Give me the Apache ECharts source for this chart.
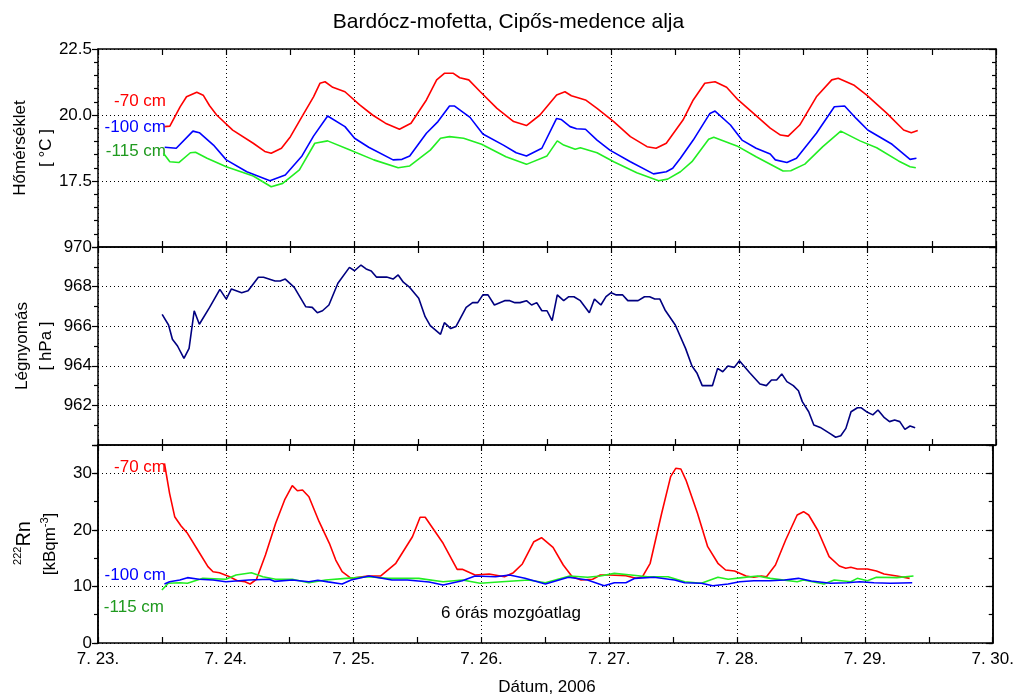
<!DOCTYPE html>
<html>
<head>
<meta charset="utf-8">
<title>Bardócz-mofetta</title>
<style>
  * { margin: 0; padding: 0 }
  html, body { width: 100%; height: 100%; background: #fff; }
  #chart { width: 1017px; height: 695px; }
</style>
</head>
<body>
<div id="chart"></div>
<script src="https://cdn.jsdelivr.net/npm/echarts@6/dist/echarts.min.js"></script>
<script>
// idő: nap (7. hó) törtrészekkel; értékek
const dayTicks = [23, 24, 25, 26, 27, 28, 29, 30];

// hőmérséklet [°C]
const temp70 = [[23.52,19.56],[23.56,19.58],[23.64,20.31],[23.69,20.69],[23.77,20.86],[23.82,20.75],[23.87,20.35],[23.925,20.0],[24.05,19.43],[24.21,18.93],[24.30,18.62],[24.35,18.55],[24.43,18.74],[24.50,19.18],[24.59,19.94],[24.68,20.69],[24.73,21.2],[24.77,21.26],[24.83,21.05],[24.925,20.88],[25.04,20.38],[25.14,20.0],[25.24,19.69],[25.35,19.46],[25.44,19.69],[25.56,20.57],[25.64,21.33],[25.70,21.58],[25.77,21.58],[25.82,21.41],[25.89,21.33],[25.98,20.88],[26.11,20.25],[26.24,19.75],[26.34,19.60],[26.445,20.0],[26.575,20.76],[26.64,20.88],[26.69,20.73],[26.80,20.57],[26.89,20.25],[27.02,19.75],[27.15,19.18],[27.28,18.80],[27.35,18.74],[27.43,18.93],[27.56,19.81],[27.64,20.57],[27.73,21.2],[27.81,21.26],[27.90,21.05],[27.99,20.57],[28.11,20.06],[28.24,19.5],[28.32,19.24],[28.38,19.2],[28.47,19.62],[28.60,20.69],[28.72,21.33],[28.77,21.39],[28.89,21.14],[28.99,20.76],[29.15,20.06],[29.28,19.43],[29.34,19.33],[29.39,19.41]];
const temp100 = [[23.52,18.78],[23.61,18.74],[23.74,19.39],[23.79,19.33],[23.90,18.86],[24.00,18.3],[24.16,17.85],[24.34,17.51],[24.46,17.73],[24.59,18.45],[24.68,19.2],[24.79,19.96],[24.925,19.56],[25.00,19.12],[25.11,18.78],[25.30,18.3],[25.37,18.32],[25.43,18.45],[25.56,19.31],[25.65,19.75],[25.74,20.34],[25.78,20.34],[25.90,19.91],[26.00,19.28],[26.16,18.86],[26.26,18.57],[26.34,18.45],[26.46,18.74],[26.575,19.87],[26.61,19.83],[26.68,19.56],[26.73,19.48],[26.80,19.46],[26.89,19.05],[26.99,18.67],[27.15,18.23],[27.33,17.77],[27.43,17.85],[27.48,17.98],[27.54,18.36],[27.64,19.05],[27.77,20.06],[27.81,20.15],[27.93,19.62],[28.02,19.05],[28.13,18.74],[28.24,18.52],[28.28,18.3],[28.37,18.2],[28.445,18.36],[28.60,19.31],[28.74,20.31],[28.82,20.34],[28.91,19.87],[29.00,19.43],[29.11,19.12],[29.19,18.89],[29.33,18.32],[29.38,18.36]];
const temp115 = [[23.51,18.55],[23.56,18.23],[23.63,18.2],[23.72,18.57],[23.76,18.59],[23.85,18.36],[24.00,18.04],[24.21,17.69],[24.35,17.28],[24.44,17.41],[24.57,17.92],[24.69,18.93],[24.79,19.02],[24.96,18.68],[25.15,18.30],[25.34,18.0],[25.43,18.07],[25.59,18.67],[25.67,19.12],[25.74,19.18],[25.85,19.12],[25.99,18.89],[26.18,18.42],[26.34,18.13],[26.50,18.45],[26.58,19.02],[26.63,18.86],[26.72,18.70],[26.76,18.76],[26.89,18.57],[27.02,18.23],[27.20,17.81],[27.37,17.51],[27.44,17.57],[27.54,17.85],[27.63,18.23],[27.76,19.08],[27.80,19.16],[27.98,18.83],[28.13,18.42],[28.34,17.88],[28.40,17.89],[28.51,18.14],[28.65,18.80],[28.79,19.39],[28.94,19.02],[29.07,18.76],[29.24,18.26],[29.33,18.04],[29.375,18.0]];

// légnyomás [hPa]
const pressure = [[23.50,966.6],[23.55,966.06],[23.58,965.34],[23.62,965.0],[23.67,964.38],[23.71,964.88],[23.75,966.78],[23.79,966.1],[23.87,966.95],[23.95,967.86],[24.00,967.37],[24.04,967.88],[24.12,967.69],[24.17,967.79],[24.25,968.47],[24.29,968.47],[24.38,968.28],[24.42,968.28],[24.46,968.38],[24.53,967.96],[24.62,966.98],[24.67,966.95],[24.71,966.68],[24.75,966.78],[24.80,967.07],[24.87,968.17],[24.96,968.97],[25.00,968.8],[25.05,969.09],[25.09,968.89],[25.13,968.79],[25.17,968.48],[25.25,968.48],[25.30,968.38],[25.34,968.59],[25.38,968.22],[25.43,967.96],[25.50,967.41],[25.55,966.48],[25.59,966.03],[25.67,965.59],[25.70,966.18],[25.75,965.88],[25.79,965.98],[25.87,966.95],[25.92,967.19],[25.96,967.19],[26.00,967.58],[26.04,967.58],[26.09,967.07],[26.17,967.29],[26.21,967.29],[26.25,967.19],[26.29,967.19],[26.34,967.29],[26.38,967.07],[26.42,967.19],[26.46,966.78],[26.50,966.78],[26.54,966.28],[26.58,967.58],[26.63,967.29],[26.67,967.49],[26.71,967.49],[26.76,967.29],[26.83,966.68],[26.87,967.37],[26.92,967.07],[26.96,967.49],[27.00,967.69],[27.04,967.58],[27.09,967.58],[27.13,967.29],[27.21,967.29],[27.26,967.49],[27.30,967.49],[27.34,967.37],[27.38,967.37],[27.42,966.82],[27.50,966.06],[27.58,964.88],[27.63,963.99],[27.67,963.62],[27.71,963.0],[27.79,963.0],[27.83,963.87],[27.87,963.7],[27.91,963.99],[27.96,963.92],[28.00,964.26],[28.08,963.65],[28.16,963.08],[28.21,963.0],[28.25,963.28],[28.29,963.28],[28.33,963.59],[28.37,963.2],[28.42,963.0],[28.46,962.74],[28.49,962.19],[28.54,961.68],[28.58,961.01],[28.63,960.89],[28.71,960.56],[28.75,960.39],[28.79,960.47],[28.83,960.84],[28.87,961.68],[28.92,961.88],[28.95,961.88],[28.99,961.68],[29.04,961.52],[29.08,961.77],[29.13,961.38],[29.17,961.18],[29.21,961.26],[29.25,961.18],[29.29,960.79],[29.33,960.96],[29.37,960.87]];

// 222Rn [kBq/m3], 6 órás mozgóátlag
const radon70 = [[23.52,31.76],[23.56,26.46],[23.60,22.33],[23.65,20.68],[23.70,19.39],[23.78,16.44],[23.86,13.49],[23.90,12.6],[23.95,12.43],[24.03,11.72],[24.09,11.01],[24.15,10.84],[24.19,10.43],[24.24,11.26],[24.31,15.56],[24.39,21.16],[24.46,25.28],[24.52,27.81],[24.56,26.92],[24.60,27.05],[24.65,25.86],[24.73,21.44],[24.81,17.62],[24.86,14.67],[24.91,12.6],[24.98,11.43],[25.11,11.84],[25.21,11.84],[25.33,14.09],[25.46,18.79],[25.52,22.22],[25.56,22.22],[25.70,17.62],[25.81,13.02],[25.85,13.02],[25.95,12.02],[26.06,12.2],[26.18,11.72],[26.25,12.43],[26.32,13.97],[26.41,17.9],[26.47,18.61],[26.56,16.91],[26.64,13.79],[26.71,11.72],[26.78,11.13],[26.87,11.26],[26.93,12.02],[27.00,12.02],[27.13,11.9],[27.21,11.43],[27.26,11.72],[27.32,14.09],[27.41,22.93],[27.48,29.4],[27.52,30.88],[27.56,30.76],[27.60,28.8],[27.69,22.93],[27.77,17.03],[27.85,14.09],[27.91,12.9],[27.98,12.73],[28.07,11.84],[28.13,11.61],[28.19,11.84],[28.23,11.72],[28.30,13.79],[28.38,18.2],[28.47,22.63],[28.52,23.21],[28.56,22.63],[28.63,19.97],[28.72,15.26],[28.80,13.61],[28.85,13.2],[28.89,13.38],[28.94,13.08],[29.02,13.08],[29.09,12.73],[29.15,12.2],[29.25,11.84],[29.35,11.43]];
const radon100 = [[23.52,10.43],[23.56,10.84],[23.64,11.13],[23.70,11.55],[23.79,11.26],[23.90,11.13],[24.00,10.84],[24.18,11.13],[24.34,11.26],[24.38,10.9],[24.52,11.13],[24.65,10.84],[24.72,11.1],[24.80,10.8],[24.91,10.43],[24.98,11.13],[25.12,11.84],[25.30,11.13],[25.42,11.13],[25.59,10.78],[25.70,10.25],[25.85,11.0],[25.95,11.84],[26.11,11.72],[26.22,12.02],[26.34,11.43],[26.50,10.43],[26.58,10.96],[26.68,11.61],[26.83,11.13],[26.96,10.13],[27.04,10.66],[27.13,10.66],[27.20,11.43],[27.35,11.61],[27.51,11.13],[27.59,10.66],[27.72,10.55],[27.81,10.13],[27.93,10.43],[28.02,10.84],[28.13,11.0],[28.26,11.0],[28.37,11.13],[28.48,11.43],[28.58,10.96],[28.73,10.55],[28.86,10.66],[28.96,10.84],[29.07,10.66],[29.20,10.55],[29.37,10.66]];
const radon115 = [[23.50,9.37],[23.55,10.55],[23.64,10.66],[23.70,10.55],[23.82,11.43],[24.00,11.26],[24.08,12.02],[24.20,12.43],[24.29,11.72],[24.39,11.26],[24.52,11.26],[24.65,10.66],[24.78,11.13],[24.94,11.43],[25.12,11.72],[25.27,11.43],[25.51,11.43],[25.70,10.84],[25.85,11.13],[25.99,10.55],[26.16,10.84],[26.37,11.13],[26.50,10.66],[26.69,11.84],[26.83,11.61],[26.93,11.84],[27.04,12.31],[27.17,12.02],[27.30,11.72],[27.46,11.72],[27.59,10.84],[27.72,10.55],[27.85,11.61],[27.93,11.26],[28.04,11.55],[28.16,11.84],[28.26,11.43],[28.47,10.84],[28.52,11.13],[28.68,10.43],[28.76,11.13],[28.89,10.84],[28.94,11.43],[29.02,11.0],[29.09,11.61],[29.25,11.55],[29.38,11.84]];

const FONT = '"Liberation Sans", Arial, sans-serif';
const BLACK = '#000';
const dotted = { color: BLACK, type: [1, 3], width: 1 };
const RED = '#ff0000', BLUE = '#0000ff', GREEN = '#22ee22', NAVY = '#000080';
const TXTGREEN = '#1f9a1f';

const xAx = (g, pos, labels, split) => ({
    type: 'value', gridIndex: g, position: pos,
    min: dayTicks[0], max: dayTicks[dayTicks.length - 1], interval: 1,
    axisLine: { show: true, onZero: false, lineStyle: { color: BLACK, width: 1.5 } },
    axisTick: { show: true, inside: true, length: 6, lineStyle: { color: BLACK, width: 1.2 } },
    minorTick: { show: true, splitNumber: 2, length: 6, lineStyle: { color: BLACK, width: 1.2 } },
    axisLabel: { show: labels, margin: 8, color: BLACK, fontSize: 17, fontFamily: FONT,
        formatter: v => '7. ' + v + '.' },
    splitLine: { show: split, lineStyle: dotted }
});

const yLeft = (g, min, max, interval, minorSplit, fmt) => ({
    type: 'value', gridIndex: g, position: 'left', min: min, max: max, interval: interval,
    axisLine: { show: true, lineStyle: { color: BLACK, width: 1.5 } },
    axisTick: { show: true, length: 6, lineStyle: { color: BLACK, width: 1.2 } },
    minorTick: { show: minorSplit > 0, splitNumber: minorSplit || 2, length: 4, lineStyle: { color: BLACK, width: 1.2 } },
    axisLabel: { show: !!fmt, margin: 6, color: BLACK, fontSize: 17, fontFamily: FONT, formatter: fmt },
    splitLine: { show: !!fmt, lineStyle: dotted }
});

const yRight = (g, min, max, interval, minorSplit, len) => ({
    type: 'value', gridIndex: g, position: 'right', min: min, max: max, interval: interval,
    axisLine: { show: true, lineStyle: { color: BLACK, width: 1.5 } },
    axisTick: { show: true, inside: true, length: len, lineStyle: { color: BLACK, width: 1.2 } },
    minorTick: { show: minorSplit > 0, splitNumber: minorSplit || 2, length: 4, lineStyle: { color: BLACK, width: 1.2 } },
    axisLabel: { show: false },
    splitLine: { show: false }
});

const line = (data, color, xi, yi) => ({
    type: 'line', data: data, xAxisIndex: xi, yAxisIndex: yi,
    showSymbol: false, symbol: 'none', silent: true,
    lineStyle: { color: color, width: 1.6 }
});

const txt = (x, y, text, color, size, align) => ({
    type: 'text', x: x, y: y, silent: true,
    style: { text: text, fill: color, fontSize: size || 17, fontFamily: FONT,
        align: align || 'right', verticalAlign: 'middle' }
});
const vtxt = (x, y, text, rich) => ({
    type: 'text', x: x, y: y, rotation: Math.PI / 2, silent: true,
    style: { text: text, fill: BLACK, fontSize: 17, fontFamily: FONT,
        align: 'center', verticalAlign: 'middle', rich: rich }
});

const chart = echarts.init(document.getElementById('chart'), null, { renderer: 'canvas' });
chart.setOption({
    animation: false,
    backgroundColor: '#fff',
    title: {
        text: 'Bardócz-mofetta, Cipős-medence alja', left: 'center', top: 7,
        textStyle: { fontSize: 21, fontWeight: 'normal', color: BLACK, fontFamily: FONT }
    },
    grid: [
        { left: 98, right: 21, top: 49, height: 198 },
        { left: 98, right: 21, top: 247, height: 198 },
        { left: 98, right: 21, top: 445, height: 198 }
    ],
    xAxis: [
        xAx(0, 'bottom', false, true), xAx(0, 'top', false, false),
        xAx(1, 'bottom', false, true), xAx(1, 'top', false, false),
        xAx(2, 'bottom', true, true), xAx(2, 'top', false, false)
    ],
    yAxis: [
        yLeft(0, 15, 22.5, 2.5, 5, v => v === 15 ? '' : v.toFixed(1)),
        yRight(0, 15, 22.5, 2.5, 5, 7),
        yLeft(1, 960, 970, 2, 2, v => v === 960 ? '' : String(v)),
        yRight(1, 960, 970, 2, 2, 7),
        yLeft(2, 0, 35, 10, 0, v => v === 35 ? '' : String(v)),
        Object.assign(yLeft(2, 0, 35, 5, 0, null), { axisTick: { show: true, length: 4, lineStyle: { color: BLACK, width: 1.2 } } }),
        yRight(2, 0, 35, 10, 0, 7),
        yRight(2, 0, 35, 5, 0, 4)
    ],
    series: [
        line(temp70, RED, 0, 0),
        line(temp100, BLUE, 0, 0),
        line(temp115, GREEN, 0, 0),
        line(pressure, NAVY, 2, 2),
        line(radon70, RED, 4, 4),
        line(radon115, GREEN, 4, 4),
        line(radon100, BLUE, 4, 4)
    ],
    graphic: [
        txt(166, 101, '-70 cm', RED),
        txt(166, 127, '-100 cm', BLUE),
        txt(166, 151, '-115 cm', TXTGREEN),
        txt(166, 467, '-70 cm', RED),
        txt(166, 575, '-100 cm', BLUE),
        txt(164, 607, '-115 cm', TXTGREEN),
        txt(511, 613, '6 órás mozgóatlag', BLACK, 17, 'center'),
        txt(547, 687, 'Dátum, 2006', BLACK, 17, 'center'),
        vtxt(20, 148, 'Hőmérséklet'),
        vtxt(46, 148, '[ °C ]'),
        vtxt(22, 346, 'Légnyomás'),
        vtxt(46, 346, '[ hPa ]'),
        vtxt(23, 543, '{s|222}{n|Rn}', {
            s: { fontSize: 11, lineHeight: 22, verticalAlign: 'top', fontFamily: FONT, fill: BLACK },
            n: { fontSize: 20, lineHeight: 22, verticalAlign: 'bottom', fontFamily: FONT, fill: BLACK }
        }),
        vtxt(49, 544, '{n|[kBqm}{s|-3}{n|]}', {
            s: { fontSize: 11, lineHeight: 20, verticalAlign: 'top', fontFamily: FONT, fill: BLACK },
            n: { fontSize: 17, lineHeight: 20, verticalAlign: 'bottom', fontFamily: FONT, fill: BLACK }
        })
    ]
});
</script>
</body>
</html>
